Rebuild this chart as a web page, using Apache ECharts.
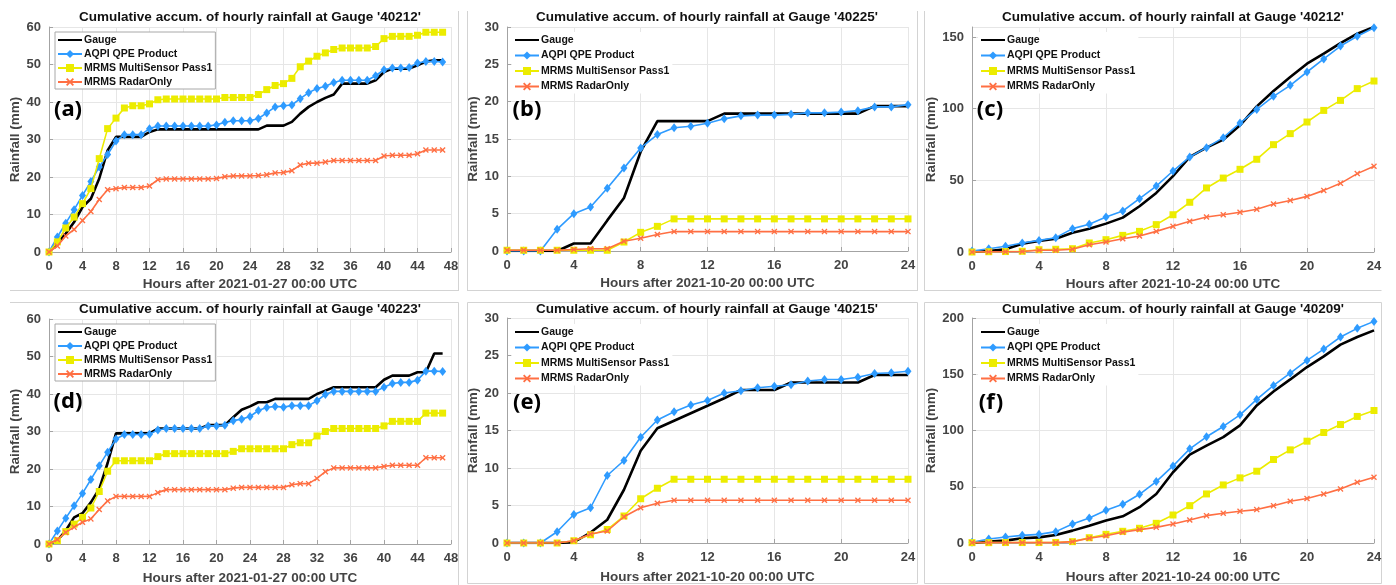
<!DOCTYPE html>
<html>
<head>
<meta charset="utf-8">
<script src="https://cdn.jsdelivr.net/npm/echarts@6/dist/echarts.min.js"></script>
<style>
  html, body { margin: 0; padding: 0; background: #fff; }
  #chart { width: 1396px; height: 585px; }
</style>
</head>
<body>
<div id="chart"></div>
<script>
// ---- data ----------------------------------------------------------------
const seriesNames = ['Gauge', 'AQPI QPE Product', 'MRMS MultiSensor Pass1', 'MRMS RadarOnly'];

const hours48 = [0, 1, 2, 3, 4, 5, 6, 7, 8, 9, 10, 11, 12, 13, 14, 15, 16, 17, 18, 19, 20, 21, 22, 23,
                 24, 25, 26, 27, 28, 29, 30, 31, 32, 33, 34, 35, 36, 37, 38, 39, 40, 41, 42, 43, 44, 45, 46, 47];
const hours24 = [0, 1, 2, 3, 4, 5, 6, 7, 8, 9, 10, 11, 12, 13, 14, 15, 16, 17, 18, 19, 20, 21, 22, 23, 24];

// (a) gauge 40212, 2021-01-27
const a_gauge = [0, 2.4, 4.9, 8.0, 12.0, 14.2, 19.6, 27.1, 30.7, 30.7, 30.7, 30.7, 32.0, 32.7, 32.7, 32.7,
                 32.7, 32.7, 32.7, 32.7, 32.7, 32.7, 32.7, 32.7, 32.7, 32.7, 33.7, 33.7, 33.7, 34.7, 36.9, 38.7,
                 40.0, 41.1, 42.0, 44.9, 44.9, 44.9, 44.9, 45.8, 48.0, 48.9, 48.9, 48.9, 49.8, 50.8, 51.1, 51.1];
const a_aqpi  = [0, 4.0, 7.7, 11.3, 15.1, 18.8, 22.7, 26.0, 29.6, 31.3, 31.3, 31.3, 32.9, 33.6, 33.6, 33.6,
                 33.6, 33.6, 33.6, 33.6, 33.9, 34.6, 35.0, 35.0, 35.0, 35.6, 37.1, 38.7, 39.0, 39.2, 40.9, 42.5,
                 43.6, 44.2, 45.2, 45.8, 45.8, 45.8, 45.8, 47.0, 48.6, 49.1, 49.1, 49.2, 50.4, 50.8, 50.8, 50.7];
const a_mrms  = [0, 2.7, 6.4, 9.3, 12.9, 16.9, 24.9, 32.9, 35.7, 38.4, 39.0, 39.0, 39.5, 40.6, 40.8, 40.8,
                 40.8, 40.8, 40.8, 40.8, 40.8, 41.2, 41.2, 41.2, 41.2, 42.0, 43.3, 44.4, 44.9, 46.3, 49.4, 50.9,
                 52.2, 53.1, 54.0, 54.4, 54.4, 54.4, 54.4, 54.8, 56.9, 57.5, 57.5, 57.5, 57.8, 58.6, 58.6, 58.6];
const a_radar = [0, 1.6, 4.3, 6.0, 8.4, 10.8, 14.0, 16.6, 16.9, 17.2, 17.2, 17.2, 17.6, 19.3, 19.5, 19.5,
                 19.5, 19.5, 19.5, 19.5, 19.6, 20.1, 20.3, 20.3, 20.3, 20.4, 20.6, 21.1, 21.2, 21.7, 23.2, 23.7,
                 23.7, 24.0, 24.4, 24.4, 24.4, 24.4, 24.4, 24.4, 25.6, 25.8, 25.8, 25.8, 26.2, 27.2, 27.2, 27.2];

// (b) gauge 40225, 2021-10-20
const b_gauge = [0, 0, 0, 0, 1.0, 1.0, 4.1, 7.1, 13.3, 17.4, 17.4, 17.4, 17.4, 18.4, 18.4, 18.4, 18.4,
                 18.4, 18.4, 18.4, 18.4, 18.4, 19.4, 19.4, 19.4];
const b_aqpi  = [0, 0, 0, 2.9, 5.0, 5.9, 8.4, 11.1, 13.8, 15.6, 16.5, 16.7, 17.1, 17.7, 18.1, 18.2, 18.2,
                 18.3, 18.5, 18.5, 18.6, 18.8, 19.3, 19.3, 19.6];
const b_mrms  = [0.1, 0.1, 0.1, 0.1, 0.1, 0.1, 0.1, 1.2, 2.5, 3.3, 4.3, 4.3, 4.3, 4.3, 4.3, 4.3, 4.3,
                 4.3, 4.3, 4.3, 4.3, 4.3, 4.3, 4.3, 4.3];
const b_radar = [0.1, 0.1, 0.1, 0.1, 0.2, 0.3, 0.3, 1.3, 1.7, 2.2, 2.6, 2.6, 2.6, 2.6, 2.6, 2.6, 2.6,
                 2.6, 2.6, 2.6, 2.6, 2.6, 2.6, 2.6, 2.6];

// (c) gauge 40212, 2021-10-24
const c_gauge = [0, 0.7, 1.9, 5.8, 7.7, 9.3, 13.5, 16.3, 19.8, 24.0, 31.9, 41.2, 53.0, 66.3, 72.8, 78.4,
                 88.4, 101.6, 112.3, 122.1, 131.4, 138.4, 145.8, 152.3, 157.0];
const c_aqpi  = [0.7, 2.3, 4.0, 6.3, 8.1, 10.0, 16.3, 19.3, 24.4, 28.6, 37.2, 46.0, 56.5, 66.3, 72.8, 79.8,
                 90.0, 99.5, 108.6, 116.3, 125.6, 134.7, 143.7, 150.5, 156.5];
const c_mrms  = [0, 0.2, 0.3, 0.5, 1.6, 1.9, 2.3, 6.3, 8.6, 11.6, 14.4, 19.1, 26.0, 34.7, 44.7, 51.6,
                 57.7, 64.7, 74.9, 82.6, 90.7, 98.8, 105.8, 114.0, 119.3];
const c_radar = [0, 0.1, 0.2, 0.3, 1.2, 1.2, 1.9, 5.1, 7.0, 9.3, 11.2, 14.4, 17.9, 21.4, 24.4, 26.0,
                 27.7, 29.8, 33.5, 36.0, 38.8, 43.0, 47.9, 54.7, 59.8];

// (d) gauge 40223, 2021-01-27
const d_gauge = [0, 0.9, 3.6, 7.1, 8.2, 11.1, 14.7, 21.6, 29.5, 29.5, 29.5, 29.5, 29.5, 30.8, 30.8, 30.8,
                 30.8, 30.8, 30.8, 31.7, 31.7, 31.7, 33.8, 35.8, 36.7, 37.8, 37.8, 38.7, 38.7, 38.7, 38.7, 38.7,
                 40.0, 40.9, 41.8, 41.8, 41.8, 41.8, 41.8, 41.8, 43.8, 44.9, 44.9, 44.9, 45.8, 45.8, 50.8, 50.8];
const d_aqpi  = [0, 3.5, 6.9, 10.2, 13.5, 17.2, 20.9, 24.5, 28.0, 29.2, 29.2, 29.2, 29.3, 30.4, 30.8, 30.8,
                 30.8, 30.8, 30.8, 31.5, 31.5, 31.7, 32.9, 33.3, 34.0, 35.6, 36.4, 36.7, 36.5, 36.9, 36.9, 36.9,
                 38.2, 39.9, 40.7, 40.7, 40.7, 40.7, 40.7, 40.7, 41.8, 42.8, 43.1, 43.1, 43.7, 46.1, 46.1, 46.0];
const d_mrms  = [0, 0.9, 3.3, 5.3, 7.1, 9.6, 14.0, 19.4, 22.2, 22.2, 22.2, 22.2, 22.2, 23.3, 24.1, 24.1,
                 24.1, 24.1, 24.1, 24.1, 24.1, 24.1, 24.7, 25.4, 25.4, 25.4, 25.4, 25.4, 25.4, 26.5, 27.0, 27.0,
                 28.8, 30.0, 30.8, 30.8, 30.8, 30.8, 30.8, 30.8, 31.5, 32.7, 32.7, 32.7, 32.7, 34.9, 34.9, 34.9];
const d_radar = [0, 1.2, 3.1, 4.5, 5.8, 6.7, 9.2, 11.5, 12.7, 12.7, 12.7, 12.7, 12.7, 13.7, 14.5, 14.5,
                 14.5, 14.5, 14.5, 14.5, 14.5, 14.5, 14.9, 15.1, 15.1, 15.1, 15.1, 15.1, 15.1, 15.8, 16.1, 16.1,
                 17.5, 19.3, 20.3, 20.3, 20.3, 20.3, 20.3, 20.3, 20.7, 21.0, 21.0, 21.0, 21.0, 23.0, 23.0, 23.0];

// (e) gauge 40215, 2021-10-20
const e_gauge = [0, 0, 0, 0, 0.1, 1.4, 3.1, 7.1, 12.3, 15.3, 16.3, 17.3, 18.3, 19.3, 20.4, 20.4, 20.4,
                 21.4, 21.4, 21.4, 21.4, 21.4, 22.4, 22.4, 22.4];
const e_aqpi  = [0, 0, 0, 1.5, 3.8, 4.7, 9.0, 11.0, 14.1, 16.4, 17.5, 18.4, 19.0, 20.0, 20.3, 20.7, 20.9,
                 21.1, 21.6, 21.8, 21.8, 22.1, 22.6, 22.7, 22.9];
const e_mrms  = [0, 0, 0, 0, 0.3, 1.1, 1.8, 3.6, 5.9, 7.3, 8.5, 8.5, 8.5, 8.5, 8.5, 8.5, 8.5,
                 8.5, 8.5, 8.5, 8.5, 8.5, 8.5, 8.5, 8.5];
const e_radar = [0, 0, 0, 0, 0.3, 1.2, 1.6, 3.5, 4.7, 5.3, 5.7, 5.7, 5.7, 5.7, 5.7, 5.7, 5.7,
                 5.7, 5.7, 5.7, 5.7, 5.7, 5.7, 5.7, 5.7];

// (f) gauge 40209, 2021-10-24
const f_gauge = [0, 1.2, 2.1, 4.2, 5.0, 7.1, 11.0, 15.4, 19.9, 23.7, 31.8, 43.6, 62.9, 78.6, 86.6, 94.1,
                 104.5, 122.3, 134.7, 145.4, 156.4, 165.9, 176.3, 183.1, 189.0];
const f_aqpi  = [0.6, 3.6, 5.3, 6.8, 7.7, 10.1, 16.9, 22.3, 29.1, 34.4, 43.3, 54.6, 68.5, 83.7, 94.4, 103.6,
                 113.9, 127.6, 140.1, 151.0, 162.3, 172.4, 183.1, 190.8, 197.0];
const f_mrms  = [0.3, 0.3, 0.4, 0.4, 0.4, 0.5, 1.2, 4.7, 7.7, 10.4, 13.1, 17.5, 24.9, 33.2, 43.6, 51.6,
                 57.9, 63.8, 74.2, 82.8, 90.5, 98.2, 105.3, 112.5, 117.8];
const f_radar = [0.3, 0.3, 0.3, 0.3, 0.3, 0.3, 1.2, 4.2, 6.5, 9.5, 11.9, 13.9, 16.9, 20.5, 24.3, 26.4,
                 28.2, 29.7, 33.2, 37.1, 39.5, 43.6, 48.1, 54.0, 58.5];

const panelTitles = [
  "Cumulative accum. of hourly rainfall at Gauge '40212'",
  "Cumulative accum. of hourly rainfall at Gauge '40225'",
  "Cumulative accum. of hourly rainfall at Gauge '40212'",
  "Cumulative accum. of hourly rainfall at Gauge '40223'",
  "Cumulative accum. of hourly rainfall at Gauge '40215'",
  "Cumulative accum. of hourly rainfall at Gauge '40209'"
];
const panelLetters = ['(a)', '(b)', '(c)', '(d)', '(e)', '(f)'];
const xAxisNames = [
  'Hours after 2021-01-27 00:00 UTC',
  'Hours after 2021-10-20 00:00 UTC',
  'Hours after 2021-10-24 00:00 UTC',
  'Hours after 2021-01-27 00:00 UTC',
  'Hours after 2021-10-20 00:00 UTC',
  'Hours after 2021-10-24 00:00 UTC'
];
const yAxisName = 'Rainfall (mm)';
const xMaxes = [48, 24, 24, 48, 24, 24];
const yMaxes = [60, 30, 157, 60, 30, 200];
const yIntervals = [10, 5, 50, 10, 5, 50];
const panelHours = [hours48, hours24, hours24, hours48, hours24, hours24];
const panelValues = [
  [a_gauge, a_aqpi, a_mrms, a_radar],
  [b_gauge, b_aqpi, b_mrms, b_radar],
  [c_gauge, c_aqpi, c_mrms, c_radar],
  [d_gauge, d_aqpi, d_mrms, d_radar],
  [e_gauge, e_aqpi, e_mrms, e_radar],
  [f_gauge, f_aqpi, f_mrms, f_radar]
];

// ---- layout & style ------------------------------------------------------
const grids = [
  { left: 49,  top: 27,  width: 402, height: 225 },
  { left: 507, top: 27,  width: 401, height: 224 },
  { left: 972, top: 27,  width: 402, height: 225 },
  { left: 49,  top: 319, width: 402, height: 225 },
  { left: 507, top: 318, width: 401, height: 225 },
  { left: 972, top: 318, width: 402, height: 225 }
];
// thin separator strokes around the panels: [x1, y1, x2, y2]
const frameEdges = [
  [[458.5, 11, 458.5, 291], [10, 290.5, 458.5, 290.5]],
  [[467.5, 11, 467.5, 291], [917.5, 11, 917.5, 291], [467.5, 290.5, 917.5, 290.5]],
  [[924.5, 11, 924.5, 291], [924.5, 290.5, 1381.5, 290.5]],
  [[10, 302.5, 458.5, 302.5], [458.5, 302.5, 458.5, 585]],
  [[467.5, 302.5, 917.5, 302.5], [467.5, 302.5, 467.5, 583.5], [917.5, 302.5, 917.5, 583.5],
   [467.5, 583.5, 917.5, 583.5]],
  [[924.5, 302.5, 1381.5, 302.5], [924.5, 302.5, 924.5, 583.5], [1381.5, 302.5, 1381.5, 583.5],
   [924.5, 583.5, 1381.5, 583.5]]
];
const titlePos  = [[250, 17], [707, 17], [1173, 17], [250, 309], [707, 309], [1173, 309]];
const letterPos = [[68, 110], [527, 110], [990, 110], [68, 402], [527, 403], [991, 403]];
const legendPos = [
  { left: 55,  top: 32,  gap: 2,   boxed: true },
  { left: 512, top: 32,  gap: 3.5, boxed: false },
  { left: 978, top: 32,  gap: 3.5, boxed: false },
  { left: 55,  top: 324, gap: 2,   boxed: true },
  { left: 512, top: 324, gap: 3.5, boxed: false },
  { left: 978, top: 324, gap: 3.5, boxed: false }
];

const FONT = '"Liberation Sans", Arial, sans-serif';
const AXIS_GRAY = '#444444';
const X_MARK = 'path://M0,1.6L1.6,0L5,3.4L8.4,0L10,1.6L6.6,5L10,8.4L8.4,10L5,6.6L1.6,10L0,8.4L3.4,5Z';
const lineStyles = [
  { color: '#000000', width: 2.6, symbol: 'none', size: 0 },
  { color: '#2e9bff', width: 1.6, symbol: 'diamond', size: [7, 9] },
  { color: '#ecec00', width: 1.6, symbol: 'rect', size: 7 },
  { color: '#ff6f43', width: 1.6, symbol: X_MARK, size: 6 }
];

// legend entries; the gauge entry is a plain line without a marker
const legendEntries = seriesNames.map((n, k) =>
  k === 0 ? { name: n, itemStyle: { opacity: 0 } } : { name: n });

// ---- build option --------------------------------------------------------
const option = {
  animation: false,
  backgroundColor: '#ffffff',
  grid: [], xAxis: [], yAxis: [], series: [], legend: [], graphic: []
};

grids.forEach((g, i) => {
  option.grid.push(Object.assign({ outerBoundsMode: 'none', containLabel: false }, g));

  option.xAxis.push({
    type: 'value', gridIndex: i, min: 0, max: xMaxes[i], interval: 4,
    name: xAxisNames[i], nameLocation: 'middle', nameGap: i < 3 ? 25 : 27,
    nameTextStyle: { fontFamily: FONT, fontWeight: 'bold', fontSize: 13.5, color: AXIS_GRAY },
    axisLine: { show: true, onZero: false, lineStyle: { color: '#a3a3a3', width: 1 } },
    axisTick: { show: true, inside: true, length: 4, lineStyle: { color: '#a3a3a3' } },
    axisLabel: { margin: 8, fontFamily: FONT, fontWeight: 'bold', fontSize: 13, color: AXIS_GRAY },
    splitLine: { show: true, lineStyle: { color: '#e6e6e6', width: 1 } }
  });

  option.yAxis.push({
    type: 'value', gridIndex: i, min: 0, max: yMaxes[i], interval: yIntervals[i],
    name: yAxisName, nameLocation: 'middle', nameGap: 26,
    nameTextStyle: { fontFamily: FONT, fontWeight: 'bold', fontSize: 13.5, color: AXIS_GRAY },
    axisLine: { show: true, onZero: false, lineStyle: { color: '#a3a3a3', width: 1 } },
    axisTick: { show: true, inside: true, length: 4, lineStyle: { color: '#a3a3a3' } },
    axisLabel: {
      margin: 8, fontFamily: FONT, fontWeight: 'bold', fontSize: 13, color: AXIS_GRAY,
      showMaxLabel: yMaxes[i] % yIntervals[i] === 0
    },
    splitLine: { show: true, lineStyle: { color: '#e6e6e6', width: 1 } }
  });

  panelValues[i].forEach((vals, k) => {
    const st = lineStyles[k];
    option.series.push({
      type: 'line', name: seriesNames[k], xAxisIndex: i, yAxisIndex: i,
      data: panelHours[i].map((h, j) => [h, vals[j]]),
      symbol: st.symbol, symbolSize: st.size, showSymbol: st.symbol !== 'none', showAllSymbol: true,
      lineStyle: { color: st.color, width: st.width },
      itemStyle: { color: st.color, borderWidth: 0 },
      emphasis: { disabled: true },
      z: 2 + k
    });
  });

  const lp = legendPos[i];
  option.legend.push({
    orient: 'vertical', left: lp.left, top: lp.top,
    data: legendEntries, itemWidth: 24, itemHeight: 10, itemGap: lp.gap,
    padding: [2, 3, 1, 2],
    backgroundColor: '#ffffff',
    borderColor: lp.boxed ? '#a8a8a8' : 'transparent', borderWidth: lp.boxed ? 1 : 0,
    selectedMode: false,
    textStyle: { fontFamily: FONT, fontWeight: 'bold', fontSize: 10.5, lineHeight: 12, color: '#111111',
                 padding: [0, 0, 0, -3] }
  });

  frameEdges[i].forEach(e => {
    option.graphic.push({
      type: 'line', silent: true, z: -10,
      shape: { x1: e[0], y1: e[1], x2: e[2], y2: e[3] },
      style: { stroke: '#d3d3d3', lineWidth: 1 }
    });
  });
  option.graphic.push({
    type: 'text', silent: true, x: titlePos[i][0], y: titlePos[i][1],
    style: { text: panelTitles[i], font: 'bold 13.5px ' + FONT, fill: '#111111',
             align: 'center', verticalAlign: 'middle' }
  });
  option.graphic.push({
    type: 'text', silent: true, x: letterPos[i][0], y: letterPos[i][1], z: 100,
    style: { text: panelLetters[i], font: 'bold 22px "Noto Sans", sans-serif', fill: '#000000',
             align: 'center', verticalAlign: 'middle' }
  });
});

const chart = echarts.init(document.getElementById('chart'), null, { renderer: 'canvas' });
chart.setOption(option);
</script>
</body>
</html>
